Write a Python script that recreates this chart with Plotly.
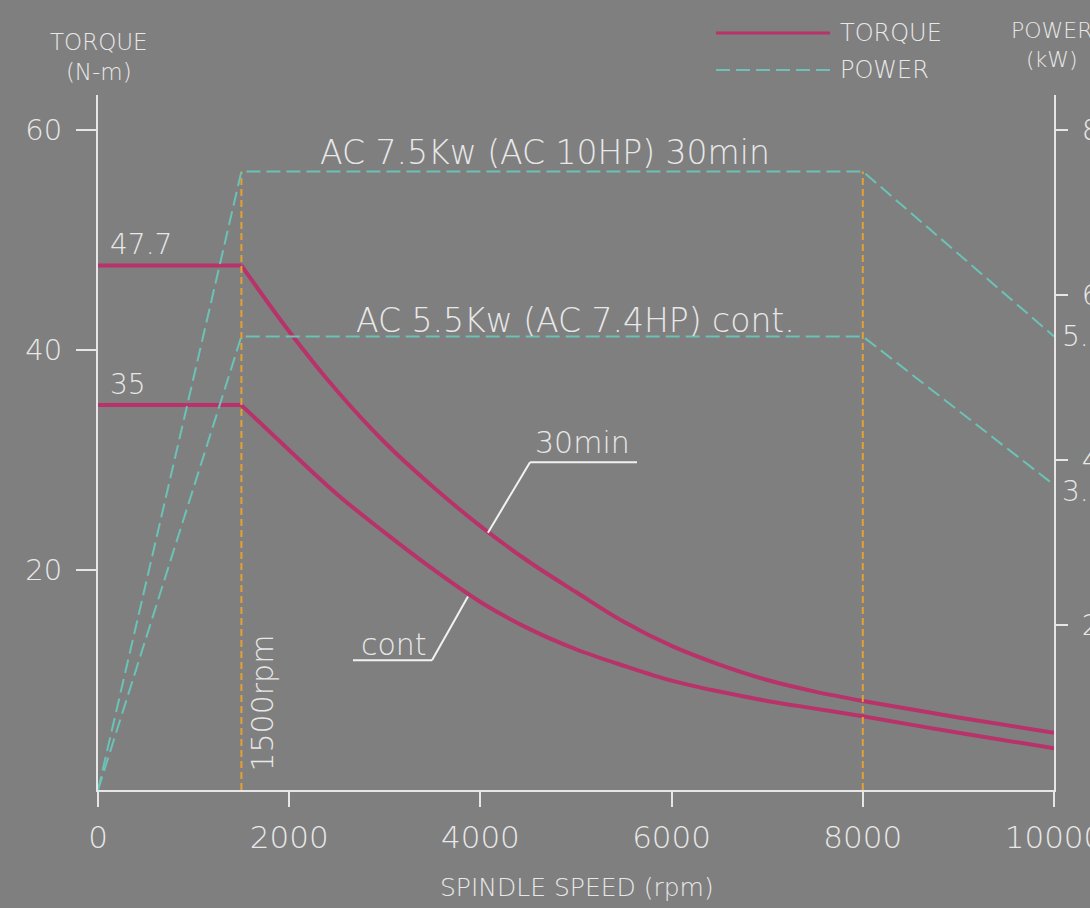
import plotly.graph_objects as go

# ---------------- data ----------------
speed_flat = [0, 1500]
torque_30_flat = [47.7, 47.7]
torque_cont_flat = [35.0, 35.0]

speed_curve = [1500, 2000, 2500, 3000, 3500, 4000, 4500, 5000, 5500, 6000, 6500, 7000, 7500, 8000, 9000, 10000]
torque_30_curve = [47.7, 41.7, 36.3, 31.6, 27.6, 24.0, 20.8, 18.0, 15.3, 13.1, 11.4, 10.0, 8.95, 8.1, 6.6, 5.2]
torque_cont_curve = [35.0, 30.9, 26.9, 23.4, 20.1, 17.1, 14.7, 12.8, 11.3, 9.95, 8.95, 8.1, 7.4, 6.7, 5.2, 3.8]

power_speed = [0, 1500, 8000, 10000]
power_30 = [0, 7.5, 7.5, 5.5]
power_cont = [0, 5.5, 5.5, 3.7]

base_speeds = [1500, 8000]          # orange dashed markers
base_top_kw = 7.5

x_ticks = [0, 2000, 4000, 6000, 8000, 10000]
x_tick_text = ["0", "2000", "4000", "6000", "8000", "10000"]
y_ticks = [20, 40, 60]
y2_ticks = [2, 4, 6, 8]

# ---------------- styles ----------------
BG = "#7f7f7f"
AX = "#e6e6e6"
TXT = "#e8e8e8"
TORQ = "#b8336a"
POW = "#6cc2b6"
ORANGE = "#e3a035"
FONT = "DejaVu Sans"

fig = go.Figure()

# orange base-speed lines
ox, oy = [], []
for s in base_speeds:
    ox += [s, s, None]
    oy += [0, base_top_kw, None]
fig.add_trace(go.Scatter(x=ox, y=oy, yaxis="y2", mode="lines",
                         line=dict(color=ORANGE, width=2, dash="7px,4px"),
                         hoverinfo="skip", showlegend=False))

# power
for pw in (power_30, power_cont):
    fig.add_trace(go.Scatter(x=power_speed, y=pw, yaxis="y2", mode="lines",
                             line=dict(color=POW, width=2, dash="14px,6px"),
                             showlegend=False))

# torque
for flat, curve in ((torque_30_flat, torque_30_curve), (torque_cont_flat, torque_cont_curve)):
    fig.add_trace(go.Scatter(x=speed_flat, y=flat, mode="lines",
                             line=dict(color=TORQ, width=4), showlegend=False))
    fig.add_trace(go.Scatter(x=speed_curve, y=curve, mode="lines",
                             line=dict(color=TORQ, width=4, shape="spline", smoothing=1.0),
                             showlegend=False))

W, H = 1090, 908
L, R, T, B = 98, 36, 95, 118

def px(xp):
    return (xp - L) / (W - L - R)

def py(yp):
    return (H - B - yp) / (H - T - B)

def ann(text, x, y, size, xref="x", yref="y", xanchor="center", yanchor="middle", **kw):
    fig.add_annotation(text=text, x=x, y=y, xref=xref, yref=yref, xanchor=xanchor,
                       yanchor=yanchor, showarrow=False,
                       font=dict(family=FONT, size=size, color=TXT, weight=200), **kw)

ann("AC 7.5Kw (AC 10HP) 30min", 4676, 58.0, 33)
ann("AC 5.5Kw (AC 7.4HP) cont.", 4990, 42.7, 33)
ann("47.7", 100, 49.6, 28, xanchor="left")
ann("35", 100, 36.9, 28, xanchor="left")
ann("1500rpm", 1720, 7.9, 30, textangle=-90)
ann("30min", 5073, 31.6, 30)
ann("cont", 3096, 13.2, 30)
ann("5.5", px(1060), 5.5, 28, xref="paper", yref="y2", xanchor="left")
ann("3.7", px(1060), 3.62, 28, xref="paper", yref="y2", xanchor="left")

ann("TORQUE<br>(N-m)", px(99), py(57), 23, xref="paper", yref="paper")
ann("POWER<br>(kW)", px(1052), py(45), 22, xref="paper", yref="paper")
ann("SPINDLE SPEED (rpm)", px(577), py(887), 25, xref="paper", yref="paper")

# legend
ann("TORQUE", px(838), py(33), 24, xref="paper", yref="paper", xanchor="left")
ann("POWER", px(838), py(70), 24, xref="paper", yref="paper", xanchor="left")
fig.add_shape(type="line", xref="paper", yref="paper", x0=px(716), x1=px(830), y0=py(33), y1=py(33),
              line=dict(color=TORQ, width=3))
fig.add_shape(type="line", xref="paper", yref="paper", x0=px(716), x1=px(830), y0=py(70), y1=py(70),
              line=dict(color=POW, width=2, dash="14px,6px"))

# leader lines for 30min / cont
LEAD = dict(color="#f2f2f2", width=2)
fig.add_shape(type="line", x0=4519, x1=5638, y0=29.8, y1=29.8, line=LEAD)
fig.add_shape(type="line", x0=4519, x1=4079, y0=29.8, y1=23.4, line=LEAD)
fig.add_shape(type="line", x0=2667, x1=3494, y0=11.8, y1=11.8, line=LEAD)
fig.add_shape(type="line", x0=3494, x1=3870, y0=11.8, y1=17.6, line=LEAD)

xtickfont = dict(family=FONT, size=31, color=TXT, weight=200)
ytickfont = dict(family=FONT, size=29, color=TXT, weight=200)
fig.update_layout(
    width=W, height=H,
    margin=dict(l=L, r=R, t=T, b=B, autoexpand=False),
    paper_bgcolor=BG, plot_bgcolor=BG,
    showlegend=False,
    xaxis=dict(range=[0, 10000], tickvals=x_ticks, ticktext=x_tick_text, showline=True,
               linecolor=AX, linewidth=2, ticks="outside", ticklen=15, tickwidth=2,
               tickcolor=AX, tickfont=xtickfont, showgrid=False, zeroline=False,
               ticklabelstandoff=4, ticklabeloverflow="allow"),
    yaxis=dict(range=[0, 63.2], tickvals=y_ticks, showline=True, linecolor=AX, linewidth=2,
               ticks="outside", ticklen=20, tickwidth=2, tickcolor=AX, tickfont=ytickfont,
               showgrid=False, zeroline=False, ticklabelstandoff=8),
    yaxis2=dict(range=[0, 63.2 / 7.5], tickvals=y2_ticks, overlaying="y", side="right",
                showline=True, linecolor=AX, linewidth=2, ticks="outside", ticklen=12,
                tickwidth=2, tickcolor=AX, tickfont=ytickfont, showgrid=False, zeroline=False,
                ticklabelstandoff=8, ticklabeloverflow="allow"),
)

fig.write_html("out.html", config={"displayModeBar": False},
               post_script="document.body.style.margin='0';document.body.style.overflow='hidden';")
